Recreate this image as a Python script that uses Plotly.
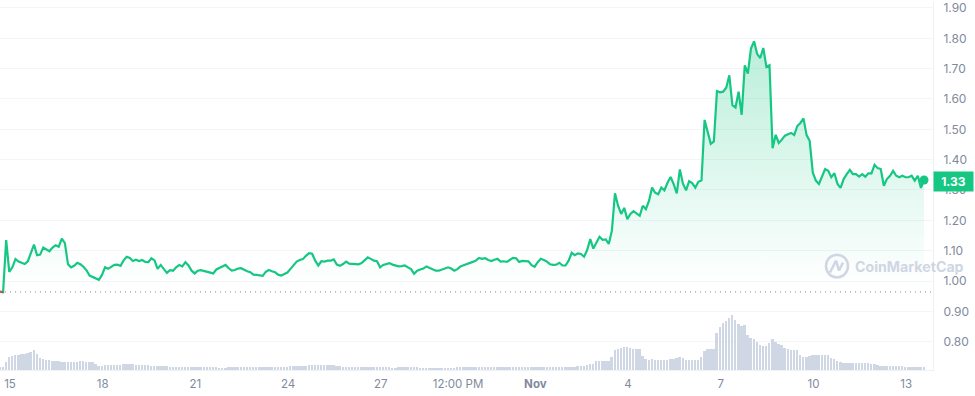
import pandas as pd
import plotly.graph_objects as go

prices = [
 .965,.963,1.135,1.03,1.045,1.072,1.064,1.060,1.056,1.065,
 1.09,1.12,1.085,1.087,1.11,1.105,1.098,1.11,1.118,1.113,
 1.14,1.125,1.055,1.045,1.05,1.06,1.055,1.047,1.035,1.018,
 1.014,1.01,1.004,1.02,1.045,1.04,1.048,1.053,1.054,1.05,
 1.068,1.08,1.076,1.066,1.07,1.066,1.069,1.063,1.062,1.075,
 1.068,1.04,
 1.053,1.040,1.027,1.036,1.034,1.045,1.053,1.048,1.062,1.051,
 1.034,1.025,1.034,1.036,1.033,1.030,1.028,1.025,1.038,1.043,
 1.050,1.053,1.042,1.034,1.036,1.041,1.042,1.036,1.032,1.029,
 1.021,1.020,1.019,1.017,1.030,1.036,1.032,1.029,1.021,1.018,
 1.023,1.028,1.040,1.054,1.064,1.069,1.072,1.083,1.092,1.090,
 1.067,1.051,
 1.065,1.064,1.067,1.067,1.071,1.054,1.050,1.056,1.064,1.057,
 1.056,1.054,1.055,1.059,1.070,1.078,1.073,1.067,1.065,1.045,
 1.053,1.057,1.059,1.054,1.051,1.048,1.049,1.051,1.045,1.039,
 1.024,1.034,1.038,1.041,1.048,1.043,1.039,1.034,1.034,1.038,
 1.041,1.045,1.041,1.034,1.039,1.048,1.052,1.055,1.059,1.063,
 1.067,1.076,
 1.073,1.075,1.069,1.066,1.070,1.073,1.064,1.065,1.063,1.070,
 1.076,1.075,1.063,1.066,1.065,1.065,1.052,1.047,1.062,1.073,
 1.069,1.064,1.055,1.053,1.054,1.060,1.051,1.051,1.067,1.093,
 1.085,1.091,1.089,1.080,1.102,1.138,1.107,1.127,1.146,1.136,
 1.137,1.122,1.166,1.289,1.248,1.221,1.241,1.204,1.221,1.230,
 1.221,1.215,
 1.248,1.237,1.264,1.308,1.291,1.286,1.308,1.299,1.324,1.343,
 1.319,1.289,1.368,1.321,1.299,1.329,1.323,1.308,1.327,1.332,
 1.531,1.488,1.452,1.460,1.626,1.622,1.624,1.637,1.678,1.580,
 1.572,1.624,1.548,1.711,1.684,1.766,1.790,1.749,1.735,1.768,
 1.706,1.711,1.438,1.482,1.455,1.466,1.479,1.484,
 1.488,1.481,1.511,1.521,1.536,1.481,1.462,1.358,1.331,1.320,
 1.347,1.369,1.363,1.342,1.355,1.320,1.307,1.336,1.352,1.366,
 1.352,1.352,1.344,1.352,1.344,1.355,1.355,1.383,1.372,1.369,
 1.314,1.336,1.347,1.363,1.347,1.342,1.347,1.342,1.342,1.347,
 1.331,1.347,1.307,1.333,
]

volumes = [
 3,3,8,13,14,15,15,16,16,17,
 18,20,16,12,11,10,10,9,9,9,
 8,8,8,8,8,8,9,9,8,8,
 8,6,4,4,5,5,5,5,5,5,
 6,6,6,6,5,5,5,5,5,4,
 4,4,
 4,4,4,3,3,3,3,3,3,3,
 3,3,3,3,3,3,3,3,3,2,
 2,2,3,3,3,3,3,3,3,3,
 3,3,3,3,3,3,3,3,3,3,
 3,3,4,4,4,4,4,4,5,5,5,5,
 5,5,5,5,5,4,4,3,3,3,
 3,3,3,3,3,3,3,3,3,3,
 3,3,3,2,2,3,3,3,3,3,
 3,3,2,2,2,2,2,2,2,2,
 2,2,2,2,3,3,3,3,3,3,
 3,3,3,3,3,3,3,3,3,3,
 3,3,3,3,3,3,3,3,3,3,
 3,3,3,3,3,3,3,3,3,3,
 3,3,3,4,4,4,5,6,6,9,
 9,9,9,9,13,20,21,22,23,23,
 22,21,21,21,14,11,10,11,10,10,
 10,10,10,11,11,12,13,12,10,10,
 10,10,10,13,19,21,21,21,37,43,
 47,49,52,55,50,46,44,45,35,32,
 31,28,25,24,24,27,31,28,26,25,
 22,21,20,20,20,15,13,13,14,15,
 15,15,15,15,15,12,11,9,8,7,
 7,7,7,7,7,7,7,7,6,6,
 5,4,4,4,4,4,4,4,4,3,
 3,3,3,3,3,3,
]

price_ticks = [0.80,0.90,1.00,1.10,1.20,1.30,1.40,1.50,1.60,1.70,1.80,1.90]
price_labels = ["0.80","0.90","1.00","1.10","1.20","1.30","1.40","1.50","1.60","1.70","1.80","1.90"]
date_ticks = ["2023-10-15","2023-10-18","2023-10-21","2023-10-24","2023-10-27","2023-10-29 12:00",
              "2023-11-01","2023-11-04","2023-11-07","2023-11-10","2023-11-13"]
date_labels = ["15","18","21","24","27","12:00 PM","<b>Nov</b>","4","7","10","13"]
baseline_price = 0.964
last_price = "1.33"

GREEN = "#16c784"
RED = "#ea3943"
GREY = "#808a9d"
GRID = "#f3f5f8"

times = pd.date_range("2023-10-14 16:14", periods=len(prices), freq="144min")

fig = go.Figure()
fig.add_bar(x=times, y=volumes, yaxis="y2", marker=dict(color="#cfd6e4", line=dict(width=0)),
            width=5.4e6, showlegend=False, hoverinfo="skip")
fig.add_scatter(x=times, y=[baseline_price]*len(prices), mode="lines",
                line=dict(width=0), showlegend=False, hoverinfo="skip")
fig.add_scatter(x=times, y=prices, mode="lines", fill="tonexty",
                fillgradient=dict(type="vertical",
                                  colorscale=[[0,"rgba(22,199,132,0)"],[1,"rgba(22,199,132,0.30)"]],
                                  start=baseline_price+0.03, stop=1.8),
                line=dict(color=GREEN, width=2.2, shape="linear"), showlegend=False)
fig.add_scatter(x=times[:2], y=prices[:2], mode="lines", line=dict(color=RED, width=2), showlegend=False)
fig.add_scatter(x=[times[0], pd.Timestamp("2023-11-13 20:49")], y=[baseline_price]*2, mode="lines",
                line=dict(color=GREY, width=1, dash="1px,4px"), showlegend=False, hoverinfo="skip")
fig.add_scatter(x=[times[-1]], y=[prices[-1]], mode="markers",
                marker=dict(color=GREEN, size=9), showlegend=False)

logo = "#cfd6e4"
W, H = 975, 396
PW, PH = 933, 370
def px(x): return x / PW
def py(y): return 1 - y / PH
fig.update_layout(
    width=W, height=H, margin=dict(l=0, r=42, t=0, b=26),
    paper_bgcolor="white", plot_bgcolor="white",
    font=dict(family="Inter", color=GREY, size=12),
    bargap=0,
    xaxis=dict(type="date", range=["2023-10-14 16:14", "2023-11-13 20:49"],
               tickmode="array", tickvals=date_ticks, ticktext=date_labels,
               showgrid=False, zeroline=False, showline=True, linecolor="#eff2f5", linewidth=1,
               ticks="", ticklabelstandoff=3, tickfont=dict(size=11.5, color=GREY)),
    yaxis=dict(side="right", range=[0.7066, 1.9197], tickmode="array", tickvals=price_ticks,
               ticktext=price_labels, showgrid=True, gridcolor=GRID, gridwidth=1, zeroline=False,
               showline=True, linecolor="#eff2f5", linewidth=1, ticks="", ticklabelstandoff=7,
               ticklabeloverflow="allow", tickfont=dict(size=12, color=GREY)),
    yaxis2=dict(overlaying="y", range=[0, 370], visible=False),
    annotations=[
        dict(xref="paper", yref="paper", x=px(933), y=py(180.5), xanchor="left", yanchor="middle",
             text="<b>"+last_price+"</b>", showarrow=False, bgcolor=GREEN, width=39, height=19,
             font=dict(color="white", size=12, family="Inter"), borderpad=0),
        dict(xref="paper", yref="paper", x=px(853), y=py(266), xanchor="left", yanchor="middle",
             text="<b>CoinMarketCap</b>", showarrow=False,
             font=dict(color=logo, size=14.2, family="Inter")),
    ],
    shapes=[
        dict(type="circle", xref="paper", yref="paper", x0=px(826), x1=px(848), y0=py(277), y1=py(254),
             line=dict(color=logo, width=2.5), layer="above"),
        dict(type="line", xref="paper", yref="paper", x0=px(830), x1=px(836), y0=py(272), y1=py(260),
             line=dict(color=logo, width=2.5)),
        dict(type="line", xref="paper", yref="paper", x0=px(836), x1=px(839), y0=py(260), y1=py(270),
             line=dict(color=logo, width=2.5)),
        dict(type="line", xref="paper", yref="paper", x0=px(839), x1=px(843), y0=py(270), y1=py(262),
             line=dict(color=logo, width=2.5)),
    ],
)
fig.write_html("out.html", config=dict(displayModeBar=False),
               post_script="document.body.style.margin='0';document.body.style.overflow='hidden';")
